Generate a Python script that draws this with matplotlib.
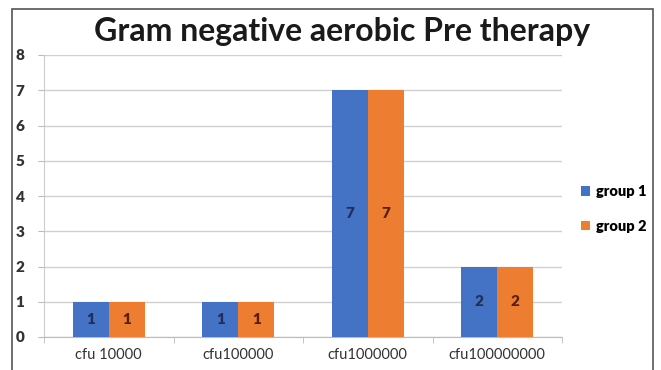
import numpy as np
import matplotlib.pyplot as plt
from matplotlib.patches import Rectangle

categories = ["cfu 10000", "cfu100000", "cfu1000000", "cfu100000000"]
group1 = [1, 1, 7, 2]
group2 = [1, 1, 7, 2]
series_names = ["group 1", "group 2"]
yticks = [0, 1, 2, 3, 4, 5, 6, 7, 8]

plt.rcParams['font.family'] = ['Lato', 'DejaVu Sans']

W, H = 661, 370
fig = plt.figure(figsize=(W / 100, H / 100), dpi=100)
fig.patch.set_facecolor("white")

# outer chart frame
fig.patches.append(Rectangle((12 / W, -0.05), (653 - 12) / W, (H - 9) / H + 0.05,
                             transform=fig.transFigure, fill=False,
                             edgecolor="#555555", lw=1.2))

ax = fig.add_axes([44 / W, (H - 337) / H, (562 - 44) / W, (337 - 55) / H])

x = np.arange(len(categories))
bw = 0.278
b1 = ax.bar(x - bw / 2, group1, bw, color="#4472C4", label=series_names[0], zorder=3)
b2 = ax.bar(x + bw / 2, group2, bw, color="#ED7D31", label=series_names[1], zorder=3)

for bars, vals, col in [(b1, group1, "#1F2F5A"), (b2, group2, "#5A1F0A")]:
    for r, v in zip(bars, vals):
        ax.text(r.get_x() + r.get_width() / 2, v / 2, str(v), ha="center", va="center",
                fontsize=11, fontweight="heavy", color=col, zorder=4)

ax.set_xlim(-0.5, len(categories) - 0.5)
ax.set_ylim(0, 8)
ax.set_yticks(yticks)
ax.set_yticklabels([str(t) for t in yticks], fontsize=11, fontweight="heavy", color="#333333")
ax.yaxis.grid(True, color="#D0D0D0", lw=1, zorder=0)
ax.tick_params(axis="y", length=4, color="#BBBBBB", pad=10)

ax.set_xticks(x)
ax.set_xticklabels(categories, fontsize=10.5, color="#333333")
ax.tick_params(axis="x", length=0, pad=8)
ax.set_xticks(np.arange(len(categories) + 1) - 0.5, minor=True)
ax.tick_params(axis="x", which="minor", length=4, color="#BBBBBB")

for s in ["top", "right"]:
    ax.spines[s].set_visible(False)
ax.spines["left"].set_color("#CCCCCC")
ax.spines["bottom"].set_color("#BBBBBB")

fig.text(342 / W, 1 - 31 / H, "Gram negative aerobic Pre therapy", ha="center", va="center",
         fontsize=23, fontweight="bold", color="#1a1a1a")

fig.legend(handles=[b1, b2], loc="center left", bbox_to_anchor=(568 / W, 1 - 209 / H),
           frameon=False, handlelength=0.6, handleheight=0.6,
           handletextpad=0.4, labelspacing=1.5, prop={"weight": "heavy", "size": 10.5})

fig.savefig("out.png", dpi=100, facecolor="white")
